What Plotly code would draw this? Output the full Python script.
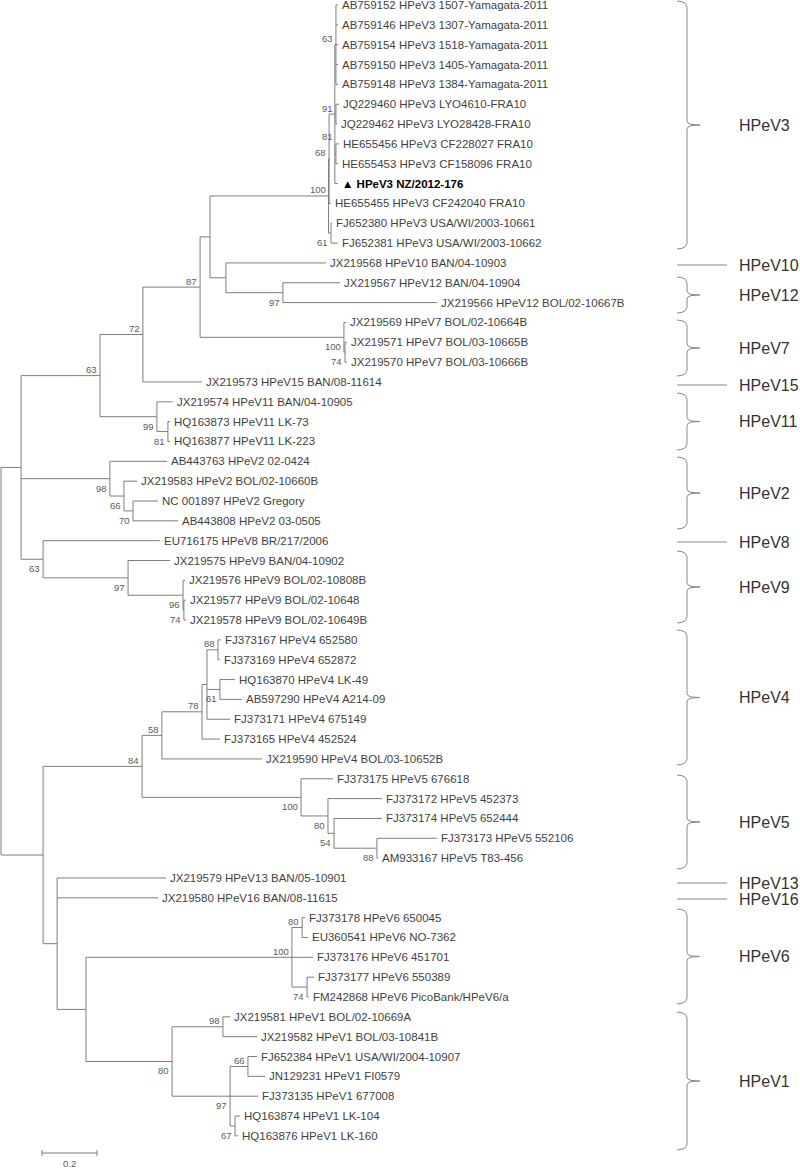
import plotly.graph_objects as go

# ---------------- tree data ----------------
leaf_labels = [
    "AB759152 HPeV3 1507-Yamagata-2011",
    "AB759146 HPeV3 1307-Yamagata-2011",
    "AB759154 HPeV3 1518-Yamagata-2011",
    "AB759150 HPeV3 1405-Yamagata-2011",
    "AB759148 HPeV3 1384-Yamagata-2011",
    "JQ229460 HPeV3 LYO4610-FRA10",
    "JQ229462 HPeV3 LYO28428-FRA10",
    "HE655456 HPeV3 CF228027 FRA10",
    "HE655453 HPeV3 CF158096 FRA10",
    "HPeV3 NZ/2012-176",
    "HE655455 HPeV3 CF242040 FRA10",
    "FJ652380 HPeV3 USA/WI/2003-10661",
    "FJ652381 HPeV3 USA/WI/2003-10662",
    "JX219568 HPeV10 BAN/04-10903",
    "JX219567 HPeV12 BAN/04-10904",
    "JX219566 HPeV12 BOL/02-10667B",
    "JX219569 HPeV7 BOL/02-10664B",
    "JX219571 HPeV7 BOL/03-10665B",
    "JX219570 HPeV7 BOL/03-10666B",
    "JX219573 HPeV15 BAN/08-11614",
    "JX219574 HPeV11 BAN/04-10905",
    "HQ163873 HPeV11 LK-73",
    "HQ163877 HPeV11 LK-223",
    "AB443763 HPeV2 02-0424",
    "JX219583 HPeV2 BOL/02-10660B",
    "NC 001897 HPeV2 Gregory",
    "AB443808 HPeV2 03-0505",
    "EU716175 HPeV8 BR/217/2006",
    "JX219575 HPeV9 BAN/04-10902",
    "JX219576 HPeV9 BOL/02-10808B",
    "JX219577 HPeV9 BOL/02-10648",
    "JX219578 HPeV9 BOL/02-10649B",
    "FJ373167 HPeV4 652580",
    "FJ373169 HPeV4 652872",
    "HQ163870 HPeV4 LK-49",
    "AB597290 HPeV4 A214-09",
    "FJ373171 HPeV4 675149",
    "FJ373165 HPeV4 452524",
    "JX219590 HPeV4 BOL/03-10652B",
    "FJ373175 HPeV5 676618",
    "FJ373172 HPeV5 452373",
    "FJ373174 HPeV5 652444",
    "FJ373173 HPeV5 552106",
    "AM933167 HPeV5 T83-456",
    "JX219579 HPeV13 BAN/05-10901",
    "JX219580 HPeV16 BAN/08-11615",
    "FJ373178 HPeV6 650045",
    "EU360541 HPeV6 NO-7362",
    "FJ373176 HPeV6 451701",
    "FJ373177 HPeV6 550389",
    "FM242868 HPeV6 PicoBank/HPeV6/a",
    "JX219581 HPeV1 BOL/02-10669A",
    "JX219582 HPeV1 BOL/03-10841B",
    "FJ652384 HPeV1 USA/WI/2004-10907",
    "JN129231 HPeV1 FI0579",
    "FJ373135 HPeV1 677008",
    "HQ163874 HPeV1 LK-104",
    "HQ163876 HPeV1 LK-160",
]
highlight_leaf = 9  # the new NZ strain

# distance from root (substitutions/site) to the tip of each leaf
leaf_depth = [
    1.225, 1.225, 1.225, 1.225, 1.225, 1.229, 1.222, 1.229, 1.225, 1.225,
    1.200, 1.204, 1.225, 1.182, 1.233, 1.585, 1.255, 1.258, 1.258, 0.731,
    0.625, 0.615, 0.615, 0.604, 0.495, 0.571, 0.644, 0.578, 0.615, 0.669,
    0.673, 0.673, 0.800, 0.796, 0.851, 0.876, 0.833, 0.796, 0.949, 1.207,
    1.385, 1.385, 1.585, 1.371, 0.600, 0.571, 1.105, 1.116, 1.135, 1.138,
    1.120, 0.833, 0.931, 0.931, 0.960, 0.935, 0.869, 0.862,
]

# internal nodes: name, distance from root, children (int = leaf index), bootstrap
node_names = [
    "root", "A", "n63a", "n72", "n87", "n3_12", "nX", "n97_12",
    "n100_3", "n68", "nT", "n63_3", "n91", "n81_3", "n61_3", "n100_7", "n74_7",
    "n99_11", "n81_11", "n98_2", "n66_2", "n70_2", "n63b", "n97_9", "n96_9",
    "n74_9", "B", "n84", "n58", "n78", "nD", "n88_4", "n61_4", "n100_5",
    "n80_5", "n54_5", "n88_5", "C", "E", "n100_6", "n80_6", "n74_6",
    "n80_1", "n98_1", "n97_1", "n66_1", "n67_1",
]
node_depth = [
    0.000, 0.073, 0.360, 0.516, 0.724, 0.760, 0.818, 1.025,
    1.191, 1.193, 1.214, 1.218, 1.218, 1.218, 1.200, 1.247, 1.251,
    0.567, 0.607, 0.396, 0.447, 0.480, 0.153, 0.462, 0.662,
    0.665, 0.153, 0.513, 0.585, 0.731, 0.749, 0.789, 0.796, 1.091,
    1.189, 1.211, 1.367, 0.204, 0.309, 1.058, 1.095, 1.113,
    0.622, 0.807, 0.833, 0.898, 0.851,
]
node_children = [
    ["A", "B"], ["n63a", "n98_2", "n63b"], ["n72", "n99_11"], ["n87", 19],
    ["n3_12", "n100_7"], ["n100_3", "nX"], [13, "n97_12"], [14, 15],
    ["n68", "n61_3"], ["nT", 10], ["n63_3", "n91", "n81_3", 9], [0, 1, 2, 3, 4],
    [5, 6], [7, 8], [11, 12], [16, "n74_7"], [17, 18],
    [20, "n81_11"], [21, 22], [23, "n66_2"], [24, "n70_2"], [25, 26],
    [27, "n97_9"], [28, "n96_9"], [29, "n74_9"],
    [30, 31], ["n84", "C"], ["n58", "n100_5"], ["n78", 38], ["nD", 37],
    ["n88_4", "n61_4", 36], [32, 33], [34, 35], [39, "n80_5"],
    [40, "n54_5"], [41, "n88_5"], [42, 43], [44, 45, "E"], ["n100_6", "n80_1"],
    ["n80_6", 48, "n74_6"], [46, 47], [49, 50],
    ["n98_1", "n97_1"], [51, 52], ["n66_1", 55, "n67_1"], [53, 54], [56, 57],
]
node_support = [
    None, None, 63, 72, 87, None, None, 97,
    100, 68, None, 63, 91, 81, 61, 100, 74,
    99, 81, 98, 66, 70, 63, 97, 96,
    74, None, 84, 58, 78, None, 88, 61, 100,
    80, 54, 88, None, None, 100, 80, 74,
    80, 98, 97, 66, 67,
]

# genotype groups shown on the right (first leaf, last leaf)
clade_names = ["HPeV3", "HPeV10", "HPeV12", "HPeV7", "HPeV15", "HPeV11", "HPeV2",
               "HPeV8", "HPeV9", "HPeV4", "HPeV5", "HPeV13", "HPeV16", "HPeV6", "HPeV1"]
clade_first = [0, 13, 14, 16, 19, 20, 23, 27, 28, 32, 39, 44, 45, 46, 51]
clade_last = [12, 13, 15, 18, 19, 22, 26, 27, 31, 38, 43, 44, 45, 50, 57]

scale_length = 0.2

# ---------------- layout (pixels) ----------------
W, H = 800, 1168
PX_PER_UNIT = 275.0
X0_PX = 1.0
ROW_PX = 19.84
Y0_PX = 5.0

# bracket extents in px (top, bottom); equal values = single line
bracket_px = [(1, 249), (265, 265), (277, 313), (320, 376), (385, 385), (393, 450),
              (457, 529), (542, 542), (551, 623), (630, 765), (775, 869),
              (883, 883), (899, 899), (909, 1004), (1012, 1150)]
# support labels that the drawing program nudged to avoid crowding (px up)
support_nudge = {"n81_3": 17, "n91": 6}
LINE_C = "#7d7d7d"
TEXT_C = "#3f3f3f"
FONT = "Arial, Liberation Sans, sans-serif"


def ux(px):
    return (px - X0_PX) / PX_PER_UNIT


def uy(px):
    return (px - Y0_PX) / ROW_PX


depth = dict(zip(node_names, node_depth))
kids = dict(zip(node_names, node_children))
support = dict(zip(node_names, node_support))
parent = {}
for n, ch in kids.items():
    for c in ch:
        parent[c] = n


def ypos(ref):
    if isinstance(ref, int):
        return ref
    ch = kids[ref]
    return (ypos(ch[0]) + ypos(ch[-1])) / 2.0


def xpos(ref):
    return leaf_depth[ref] if isinstance(ref, int) else depth[ref]


xs, ys = [], []
for n in node_names:
    ch = kids[n]
    x = depth[n]
    xs += [x, x, None]
    ys += [ypos(ch[0]), ypos(ch[-1]), None]
    for c in ch:
        yc = ypos(c)
        xs += [x, xpos(c), None]
        ys += [yc, yc, None]

fig = go.Figure()
fig.add_trace(go.Scatter(x=xs, y=ys, mode="lines", hoverinfo="skip",
                         line=dict(color=LINE_C, width=1)))

annotations = []
for i, lab in enumerate(leaf_labels):
    if i == highlight_leaf:
        txt = "▲ <b>" + lab + "</b>"
        col = "#000000"
    else:
        txt = lab
        col = TEXT_C
    annotations.append(dict(x=leaf_depth[i], y=i, text=txt, showarrow=False,
                            xanchor="left", yanchor="middle", xshift=3, borderpad=0,
                            font=dict(family=FONT, size=11.5, color=col)))

for n in node_names:
    s = support[n]
    if s is None:
        continue
    p = parent[n]
    first = kids[p][0] == n
    if n in support_nudge:
        dy = support_nudge[n]
    else:
        dy = 6 if first else -9.5
    annotations.append(dict(x=depth[n], y=ypos(n), text=str(s), showarrow=False,
                            xanchor="right", yanchor="middle", xshift=-2,
                            yshift=dy, borderpad=0,
                            font=dict(family=FONT, size=9.5, color="#5a5a5a")))

# brackets
bx, by = [], []
XL, XM, XT = 677, 687, 700
for name, (top, bot) in zip(clade_names, bracket_px):
    if top == bot:
        bx += [ux(XL), ux(727), None]
        by += [uy(top), uy(top), None]
        ly = top
    else:
        mid = (top + bot) / 2.0
        pts = [(XL, top), (XL + 5, top + 0.7), (XM - 1.5, top + 2.5), (XM, top + 6),
               (XM, mid - 4), (XM + 1, mid - 2), (XM + 4, mid - 0.6), (XT, mid),
               (XM + 4, mid + 0.6), (XM + 1, mid + 2), (XM, mid + 4),
               (XM, bot - 6), (XM - 1.5, bot - 2.5), (XL + 5, bot - 0.7), (XL, bot)]
        bx += [ux(p[0]) for p in pts] + [None]
        by += [uy(p[1]) for p in pts] + [None]
        ly = mid
    annotations.append(dict(x=ux(738), y=uy(ly), text=name, showarrow=False,
                            xanchor="left", yanchor="middle", borderpad=0,
                            font=dict(family=FONT, size=16, color="#333333")))

fig.add_trace(go.Scatter(x=bx, y=by, mode="lines", hoverinfo="skip",
                         line=dict(color="#8a8a8a", width=1)))

# scale bar
sx0 = ux(42)
sy = uy(1153)
tick = 3 / ROW_PX
fig.add_trace(go.Scatter(
    x=[sx0, sx0 + scale_length, None, sx0, sx0, None, sx0 + scale_length, sx0 + scale_length],
    y=[sy, sy, None, sy - tick, sy + tick, None, sy - tick, sy + tick],
    mode="lines", hoverinfo="skip", line=dict(color=LINE_C, width=1)))
annotations.append(dict(x=sx0 + scale_length / 2, y=uy(1163), text=str(scale_length),
                        showarrow=False, xanchor="center", yanchor="middle",
                        font=dict(family=FONT, size=9.5, color="#5a5a5a")))

fig.update_layout(
    width=W, height=H, margin=dict(l=0, r=0, t=0, b=0),
    plot_bgcolor="white", paper_bgcolor="white", showlegend=False,
    xaxis=dict(range=[ux(0), ux(W)], visible=False, fixedrange=True),
    yaxis=dict(range=[uy(H), uy(0)], visible=False, fixedrange=True),
    annotations=annotations,
)

# the page body has a default 8px margin; drop it so the figure sits at the corner
fig.write_html("out.html", config={"displayModeBar": False},
               post_script="document.body.style.margin='0';")
